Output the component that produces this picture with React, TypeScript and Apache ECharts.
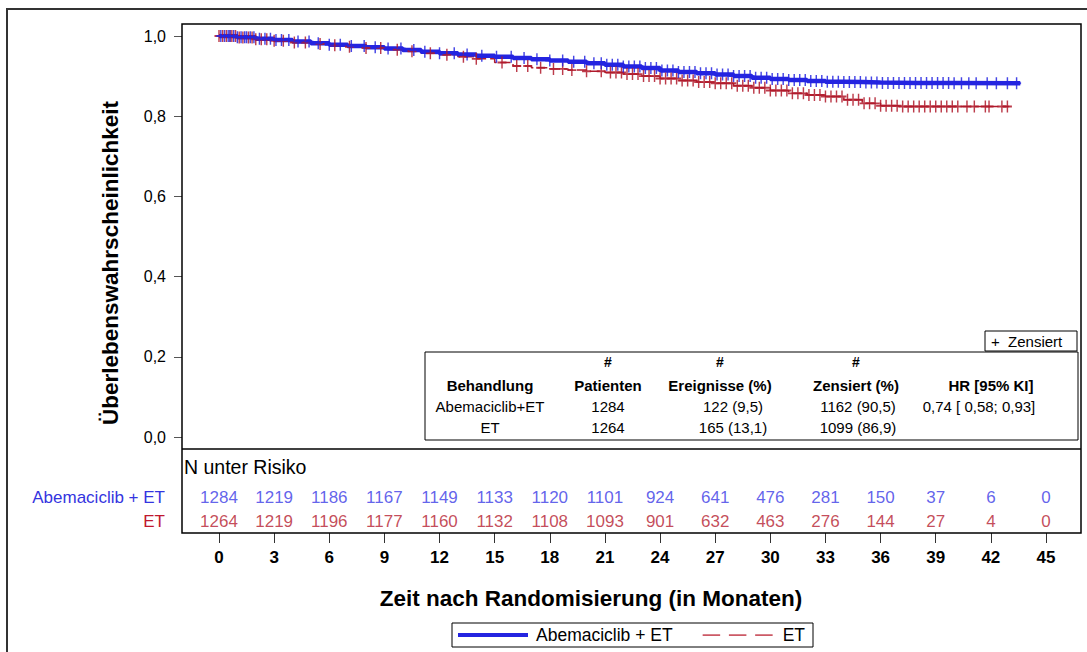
import React, { useEffect, useRef } from "react";
import * as echarts from "echarts";

// ---- Kaplan-Meier step data ----
const blueTime = [0, 1, 2, 3, 4, 5, 6, 7, 8, 9, 10, 11, 12, 13, 14, 15, 16, 17, 18, 19, 20, 21, 22, 23, 24, 25, 26, 27, 28, 29, 30, 31, 32, 33, 34, 35, 36, 38, 40, 43.6];
const blueSurv = [1.0, 0.997, 0.993, 0.99, 0.986, 0.982, 0.978, 0.975, 0.972, 0.969, 0.965, 0.961, 0.957, 0.954, 0.951, 0.948, 0.945, 0.942, 0.939, 0.936, 0.932, 0.928, 0.924, 0.92, 0.914, 0.91, 0.907, 0.904, 0.9, 0.896, 0.893, 0.89, 0.888, 0.886, 0.885, 0.884, 0.883, 0.883, 0.882, 0.882];

const redTime = [0, 1, 2, 3, 4, 5, 6, 7, 8, 9, 10, 11, 12, 13, 14, 15, 16, 17, 18, 19, 20, 21, 22, 23, 24, 25, 26, 27, 28, 29, 30, 31, 32, 33, 34, 35, 36, 37, 39, 43];
const redSurv = [1.0, 0.996, 0.992, 0.988, 0.984, 0.98, 0.977, 0.973, 0.97, 0.966, 0.962, 0.957, 0.953, 0.948, 0.943, 0.934, 0.925, 0.921, 0.918, 0.915, 0.912, 0.909, 0.905, 0.9, 0.894, 0.889, 0.885, 0.882, 0.876, 0.871, 0.864, 0.857, 0.853, 0.849, 0.841, 0.832, 0.826, 0.824, 0.824, 0.824];

// censoring times (months)
const blueCensor = [0.1, 0.3, 0.5, 0.6, 0.8, 1.0, 1.2, 1.4, 1.5, 1.7, 1.9, 2.2, 2.5, 2.8, 3.1, 3.4, 3.8, 4.3, 4.9, 5.4, 6.0, 6.6, 7.2, 7.9, 8.5, 9.2, 9.9, 10.6, 11.2, 12.0, 12.8, 13.5, 14.3, 15.1, 15.9, 16.6, 17.3, 18.0, 18.7, 19.3, 19.9, 20.4, 20.8, 21.1, 21.4, 21.7, 22.0, 22.3, 22.6, 22.9, 23.2, 23.5, 23.8, 24.1, 24.4, 24.7, 25.0, 25.3, 25.6, 25.9, 26.2, 26.5, 26.8, 27.1, 27.4, 27.7, 28.0, 28.3, 28.6, 28.9, 29.2, 29.5, 29.8, 30.1, 30.4, 30.7, 31.0, 31.3, 31.6, 31.9, 32.2, 32.5, 32.8, 33.1, 33.4, 33.7, 34.0, 34.3, 34.6, 34.9, 35.2, 35.5, 35.8, 36.1, 36.4, 36.7, 37.0, 37.3, 37.6, 37.9, 38.2, 38.5, 38.8, 39.1, 39.4, 39.7, 40.0, 40.4, 40.8, 41.2, 41.8, 42.3, 42.9, 43.4];
const redCensor = [0.0, 0.2, 0.4, 0.6, 0.7, 0.9, 1.1, 1.3, 1.6, 1.8, 2.0, 2.3, 2.6, 3.0, 3.5, 4.1, 4.7, 5.5, 6.3, 7.1, 8.0, 8.8, 9.7, 10.5, 11.5, 12.4, 13.3, 14.0, 15.4, 16.2, 16.8, 17.5, 18.2, 18.7, 19.2, 20.0, 20.8, 21.3, 21.6, 21.9, 22.2, 22.5, 22.8, 23.1, 23.4, 23.7, 24.0, 24.3, 24.6, 24.9, 25.2, 25.5, 25.8, 26.1, 26.4, 26.7, 27.0, 27.3, 27.6, 27.9, 28.2, 28.5, 28.8, 29.1, 29.4, 29.7, 30.0, 30.3, 30.6, 30.9, 31.2, 31.5, 31.8, 32.1, 32.4, 32.7, 33.0, 33.3, 33.6, 33.9, 34.2, 34.5, 34.8, 35.1, 35.4, 35.7, 36.0, 36.3, 36.6, 36.9, 37.2, 37.5, 37.8, 38.1, 38.4, 38.7, 39.0, 39.3, 39.6, 39.9, 40.2, 40.7, 41.1, 41.7, 41.9, 42.6, 42.9];

// ---- risk table ----
const riskTimes = [0, 3, 6, 9, 12, 15, 18, 21, 24, 27, 30, 33, 36, 39, 42, 45];
const riskAbema = [1284, 1219, 1186, 1167, 1149, 1133, 1120, 1101, 924, 641, 476, 281, 150, 37, 6, 0];
const riskET = [1264, 1219, 1196, 1177, 1160, 1132, 1108, 1093, 901, 632, 463, 276, 144, 27, 4, 0];
const riskRows = ["Abemaciclib + ET", "ET"];

// ---- stats table ----
const tableCols = ["Behandlung", "Patienten", "Ereignisse (%)", "Zensiert (%)", "HR [95% KI]"];
const tableHash = ["", "#", "#", "#", ""];
const tableRowA = ["Abemaciclib+ET", "1284", "122 (9,5)", "1162 (90,5)", "0,74 [ 0,58; 0,93]"];
const tableRowB = ["ET", "1264", "165 (13,1)", "1099 (86,9)", ""];

const BLUE = "#2424e0";
const RED = "#b01a2c";
const FONT = "'Liberation Sans', Arial, sans-serif";
const PLUS = "path://M4.2,0h1.6v10h-1.6zM0,4.2h10v1.6h-10z";
const LEGEND_SOLID = "path://M0,0h70v4h-70z";
const LEGEND_DASH = "path://M0,0h16v1.6h-16zM24,0h16v1.6h-16zM48,0h16v1.6h-16z";

// plot frame spans x 182..1081 while months 0..45 map to 219..1046
const PLOT_X_MIN = -2.0133;
const PLOT_X_MAX = 46.9045;

function survAt(times: number[], survs: number[], t: number) {
  let v = survs[0];
  for (let i = 0; i < times.length; i++) {
    if (times[i] <= t) v = survs[i];
  }
  return v;
}

export default function App() {
  const ref = useRef<HTMLDivElement>(null);
  useEffect(() => {
    if (!ref.current) return;
    const chart = echarts.init(ref.current, undefined, { renderer: "svg" });

    const headerX = [490, 608, 720, 856, 991];
    const rowX = [490, 608, 733, 858, 979];
    const graphics: any[] = [
      { type: "rect", shape: { x: 7, y: 9, width: 1200, height: 800 }, style: { fill: "none", stroke: "#333", lineWidth: 2 }, z: 0 },
      { type: "rect", shape: { x: 182, y: 24, width: 899, height: 509 }, style: { fill: "none", stroke: "#000", lineWidth: 1.5 }, z: 10 },
      { type: "line", shape: { x1: 182, y1: 449, x2: 1081, y2: 449 }, style: { stroke: "#000", lineWidth: 1.5 }, z: 10 },
      { type: "text", x: 184, y: 467, style: { text: "N unter Risiko", font: `19.5px ${FONT}`, fill: "#000", verticalAlign: "middle" }, z: 10 },
      { type: "rect", shape: { x: 985, y: 331, width: 92, height: 20 }, style: { fill: "#fff", stroke: "#000", lineWidth: 1 }, z: 10 },
      { type: "text", x: 991, y: 341, style: { text: "+  Zensiert", font: `15px ${FONT}`, fill: "#000", verticalAlign: "middle" }, z: 11 },
      { type: "rect", shape: { x: 425, y: 352, width: 653, height: 88 }, style: { fill: "#fff", stroke: "#000", lineWidth: 1 }, z: 10 },
      {
        type: "text", x: 110, y: 263, rotation: Math.PI / 2,
        style: { text: "Überlebenswahrscheinlichkeit", font: `bold 22.5px ${FONT}`, fill: "#000", align: "center", verticalAlign: "middle" }, z: 10,
      },
      { type: "text", x: 591, y: 598, style: { text: "Zeit nach Randomisierung (in Monaten)", font: `bold 22.5px ${FONT}`, fill: "#000", align: "center", verticalAlign: "middle" }, z: 10 },
    ];
    tableHash.forEach((t, i) => {
      if (t) graphics.push({ type: "text", x: headerX[i], y: 362, style: { text: t, font: `bold 14px ${FONT}`, fill: "#000", align: "center", verticalAlign: "middle" }, z: 11 });
    });
    tableCols.forEach((t, i) => {
      graphics.push({ type: "text", x: headerX[i], y: 385, style: { text: t, font: `bold 15px ${FONT}`, fill: "#000", align: "center", verticalAlign: "middle" }, z: 11 });
    });
    [tableRowA, tableRowB].forEach((row, r) => {
      row.forEach((t, i) => {
        if (t) graphics.push({ type: "text", x: rowX[i], y: 406 + r * 21, style: { text: t, font: `15px ${FONT}`, fill: "#000", align: "center", verticalAlign: "middle" }, z: 11 });
      });
    });

    const blueLine = blueTime.map((t, i) => [t, blueSurv[i]]);
    const redLine = redTime.map((t, i) => [t, redSurv[i]]);
    const blueMarks = blueCensor.map((t) => [t, survAt(blueTime, blueSurv, t)]);
    const redMarks = redCensor.map((t) => [t, survAt(redTime, redSurv, t)]);
    const riskData: any[] = [];
    riskTimes.forEach((t, i) => {
      riskData.push({ value: [t, riskRows[0], riskAbema[i]], label: { color: "#3a3ae6" } });
      riskData.push({ value: [t, riskRows[1], riskET[i]], label: { color: "#b51c30" } });
    });

    chart.setOption({
      animation: false,
      backgroundColor: "#fff",
      textStyle: { fontFamily: FONT },
      grid: [
        { left: 182, top: 36, width: 899, height: 401 },
        { left: 219, top: 485, width: 827, height: 48 },
      ],
      xAxis: [
        { gridIndex: 0, type: "value", min: PLOT_X_MIN, max: PLOT_X_MAX, show: false },
        {
          gridIndex: 1, type: "value", min: 0, max: 45, interval: 3,
          axisLine: { show: false },
          axisTick: { show: true, length: 10, lineStyle: { color: "#333", width: 1 } },
          axisLabel: { margin: 16, fontSize: 17, fontWeight: "bold", color: "#000", fontFamily: FONT },
          splitLine: { show: false },
        },
      ],
      yAxis: [
        {
          gridIndex: 0, type: "value", min: 0, max: 1, interval: 0.2,
          axisLine: { show: false, onZero: false },
          axisTick: { show: true, inside: false, length: 8, lineStyle: { color: "#555", width: 1 } },
          axisLabel: { margin: 16, fontSize: 16, color: "#000", fontFamily: FONT, formatter: (v: number) => v.toFixed(1).replace(".", ",") },
          splitLine: { show: false },
        },
        {
          gridIndex: 1, type: "category", data: riskRows, inverse: true,
          axisLine: { show: false, onZero: false }, axisTick: { show: false },
          axisLabel: { margin: 54, fontSize: 17, fontFamily: FONT, color: (_v: any, i: number) => (i === 0 ? "#3434e0" : "#c0182e") },
          splitLine: { show: false },
        },
      ],
      legend: {
        left: 452, top: 623,
        padding: [3, 8, 3, 6],
        itemWidth: 70, itemHeight: 14, itemGap: 30,
        symbolKeepAspect: true,
        borderColor: "#000", borderWidth: 1,
        textStyle: { fontSize: 17.5, color: "#000", fontFamily: FONT, padding: [0, 0, 0, 3] },
        data: [
          { name: "Abemaciclib + ET", icon: LEGEND_SOLID, itemStyle: { color: BLUE } },
          { name: "ET", icon: LEGEND_DASH, itemStyle: { color: "#cc5a66" }, textStyle: { padding: [0, 0, 0, 5] } },
        ],
      },
      series: [
        {
          name: "ET", type: "line", step: "end", xAxisIndex: 0, yAxisIndex: 0, data: redLine,
          symbol: "none", showSymbol: false, lineStyle: { color: RED, width: 1.5, type: [10, 4] }, itemStyle: { color: RED }, z: 2,
        },
        {
          name: "Abemaciclib + ET", type: "line", step: "end", xAxisIndex: 0, yAxisIndex: 0, data: blueLine,
          symbol: "none", showSymbol: false, lineStyle: { color: BLUE, width: 4.5 }, itemStyle: { color: BLUE }, z: 3,
        },
        {
          name: "censorET", type: "scatter", xAxisIndex: 0, yAxisIndex: 0, data: redMarks,
          symbol: PLUS, symbolSize: [9, 12], itemStyle: { color: RED, opacity: 0.85 }, z: 4, silent: true,
        },
        {
          name: "censorAbema", type: "scatter", xAxisIndex: 0, yAxisIndex: 0, data: blueMarks,
          symbol: PLUS, symbolSize: [9, 12], itemStyle: { color: BLUE, opacity: 0.85 }, z: 5, silent: true,
        },
        {
          name: "risk", type: "scatter", xAxisIndex: 1, yAxisIndex: 1, data: riskData,
          symbolSize: 1, itemStyle: { color: "transparent" }, silent: true,
          label: { show: true, position: "inside", fontSize: 17, fontFamily: FONT, formatter: (p: any) => String(p.value[2]) },
        },
      ],
      graphic: graphics,
    });
    return () => chart.dispose();
  }, []);
  return <div ref={ref} style={{ width: 1087, height: 652, position: "absolute", left: 0, top: 0 }} />;
}
